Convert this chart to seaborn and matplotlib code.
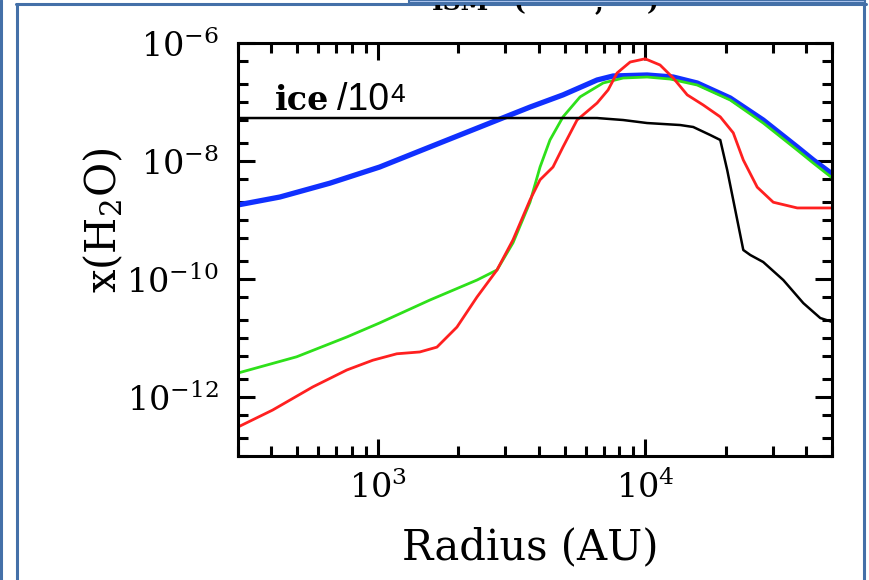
import numpy as np
import pandas as pd
import matplotlib
matplotlib.use("Agg")
import matplotlib.pyplot as plt
import seaborn as sns
from matplotlib.ticker import LogLocator, FuncFormatter, NullFormatter
from matplotlib.lines import Line2D
from matplotlib.patches import Rectangle
from matplotlib.transforms import Bbox, TransformedBbox, IdentityTransform

# ---------------- data ----------------
blue_radius = [300, 430, 661, 1016, 1566, 2411, 3709, 4930, 6609, 7587,
               10170, 12740, 15660, 20810, 27650, 37070, 42580, 50120]
blue_abund = [1.8e-9, 2.45e-9, 4.2e-9, 7.9e-9, 1.73e-8, 3.77e-8, 8.2e-8, 1.32e-7,
              2.36e-7, 2.76e-7, 2.87e-7, 2.65e-7, 2.1e-7, 1.17e-7, 4.95e-8,
              1.73e-8, 1.04e-8, 6.0e-9]

green_radius = [300, 497, 766, 1016, 1566, 2350, 2791, 3204, 3709, 4045, 4406,
                4930, 5710, 6966, 8275, 10170, 12400, 15660, 20810, 27650,
                37070, 42580, 50120]
green_abund = [2.55e-12, 4.8e-12, 1.04e-11, 1.8e-11, 4.4e-11, 9.6e-11, 1.42e-10,
               4.1e-10, 2.0e-9, 7.9e-9, 2.27e-8, 5.6e-8, 1.22e-7, 2.1e-7, 2.55e-7,
               2.65e-7, 2.45e-7, 1.94e-7, 1.08e-7, 4.4e-8, 1.53e-8, 9.2e-9, 5.15e-9]

red_radius = [300, 404, 571, 766, 958, 1178, 1436, 1664, 1977, 2350, 2791, 3204,
              3709, 4045, 4522, 4930, 5563, 6609, 7268, 7851, 8790, 10000, 11370,
              12740, 14370, 16490, 19100, 21360, 23290, 26260, 30150, 37070, 50120]
red_abund = [3.1e-13, 6.0e-13, 1.48e-12, 2.87e-12, 4.2e-12, 5.4e-12, 5.8e-12,
             7.0e-12, 1.53e-11, 4.95e-11, 1.42e-10, 4.6e-10, 2.18e-9, 4.8e-9,
             7.9e-9, 1.73e-8, 4.95e-8, 9.6e-8, 1.6e-7, 3.1e-7, 4.76e-7, 5.4e-7,
             4.24e-7, 2.55e-7, 1.32e-7, 8.9e-8, 5.6e-8, 3.0e-8, 1.04e-8, 3.6e-9,
             2.0e-9, 1.6e-9, 1.6e-9]

ice_radius = [300, 6609, 8275, 10170, 13530, 15130, 17510, 19100, 20280, 21360,
              23290, 24740, 27650, 32870, 39060, 45190, 50120]
ice_abund = [5.35e-8, 5.35e-8, 4.95e-8, 4.4e-8, 4.07e-8, 3.77e-8, 2.76e-8,
             2.27e-8, 7.0e-9, 2.18e-9, 3.1e-10, 2.55e-10, 1.94e-10, 9.6e-11,
             3.9e-11, 2.18e-11, 1.87e-11]

x_label = "Radius (AU)"
y_label = r"x(H$_2$O)"
ice_text = "ice"
ice_scale_text = "/10"
ice_scale_exp = "4"

# ---------------- style ----------------
sns.set_style("ticks")
plt.rcParams["font.family"] = ["DejaVu Serif"]
plt.rcParams["mathtext.fontset"] = "dejavuserif"
plt.rcParams["text.color"] = "black"
plt.rcParams["axes.labelcolor"] = "black"
plt.rcParams["xtick.color"] = "black"
plt.rcParams["ytick.color"] = "black"

W, H = 870, 580
fig = plt.figure(figsize=(W / 100, H / 100), dpi=100)
fig.patch.set_facecolor("white")


def fx(x):
    return x / W


def fy(y):
    return 1 - y / H


ax = fig.add_axes([fx(238), fy(456), fx(832) - fx(238), fy(43) - fy(456)])
ax.set_xscale("log")
ax.set_yscale("log")

series = [
    (blue_radius, blue_abund, "#1030ff", 3.8),
    (green_radius, green_abund, "#2ee01a", 2.0),
    (red_radius, red_abund, "#ff2020", 2.0),
    (ice_radius, ice_abund, "black", 1.8),
]
for r, a, c, lw in series:
    df = pd.DataFrame({"radius": r, "abund": a})
    sns.lineplot(data=df, x="radius", y="abund", ax=ax, color=c, linewidth=lw,
                 estimator=None, sort=False, legend=False)

ax.set_xlim(300, 5e4)
ax.set_ylim(1e-13, 1e-6)

for s in ax.spines.values():
    s.set_linewidth(2.2)
    s.set_color("black")

ax.xaxis.set_major_locator(LogLocator(base=10, numticks=20))
ax.xaxis.set_minor_locator(LogLocator(base=10, subs=np.arange(2, 10), numticks=50))
ax.yaxis.set_major_locator(LogLocator(base=100, numticks=20))
ax.yaxis.set_minor_locator(LogLocator(base=10, subs=(1.0, 2.0, 5.0), numticks=50))
fmt = FuncFormatter(lambda v, p: r"$10^{%d}$" % int(round(np.log10(v))))
ax.xaxis.set_major_formatter(fmt)
ax.yaxis.set_major_formatter(fmt)
ax.xaxis.set_minor_formatter(NullFormatter())
ax.yaxis.set_minor_formatter(NullFormatter())

ax.tick_params(which="both", direction="in", top=True, right=True, width=2.2,
               color="black", labelcolor="black")
ax.tick_params(which="major", length=12, labelsize=24)
ax.tick_params(axis="y", which="major", pad=14)
ax.tick_params(axis="x", which="major", pad=11)
ax.tick_params(which="minor", length=7)

ax.set_xlabel(x_label, fontsize=30, color="black")
ax.set_ylabel(y_label, fontsize=30, color="black")
ax.xaxis.set_label_coords(0.492, -0.17)
ax.yaxis.set_label_coords(-0.19, 0.57)

ax.text(0.062, 0.838, ice_text, transform=ax.transAxes, fontsize=24,
        fontweight="bold", family="DejaVu Serif", va="baseline", ha="left",
        color="black")
ax.text(0.1667, 0.838, ice_scale_text, transform=ax.transAxes, fontsize=27,
        family="Liberation Sans", va="baseline", ha="left", color="black")
ax.text(0.256, 0.858, ice_scale_exp, transform=ax.transAxes, fontsize=19,
        family="Liberation Sans", va="baseline", ha="left", color="black")

# ---------------- slide frame ----------------
frame_c = "#4470a8"
T = fig.transFigure
fig.add_artist(Rectangle((fx(409), fy(3)), fx(865) - fx(409), fy(0) - fy(3),
                         transform=T, facecolor="#b2c9f2", edgecolor=frame_c,
                         linewidth=1.5, zorder=5))
fig.add_artist(Line2D([fx(1), fx(1)], [0, 1], transform=T, color=frame_c, lw=2.2))
fig.add_artist(Line2D([fx(17), fx(17)], [0, fy(4)], transform=T, color=frame_c, lw=2.2))
fig.add_artist(Line2D([fx(16), fx(866)], [fy(4), fy(4)], transform=T, color=frame_c, lw=2.2))
fig.add_artist(Line2D([fx(864.5), fx(864.5)], [0, fy(3)], transform=T, color=frame_c, lw=2.2))

# cut-off title fragment at the top
clip = TransformedBbox(Bbox([[0, 0], [W, H - 5]]), IdentityTransform())
for xpix, txt in [(432, "ISM"), (514, "("), (595, ","), (647, ")")]:
    t = fig.text(fx(xpix), fy(10), txt, fontsize=18, fontweight="bold",
                 family="DejaVu Serif", va="baseline", ha="left", color="black")
    t.set_clip_box(clip)
    t.set_clip_on(True)

fig.savefig("out.png", dpi=100)
